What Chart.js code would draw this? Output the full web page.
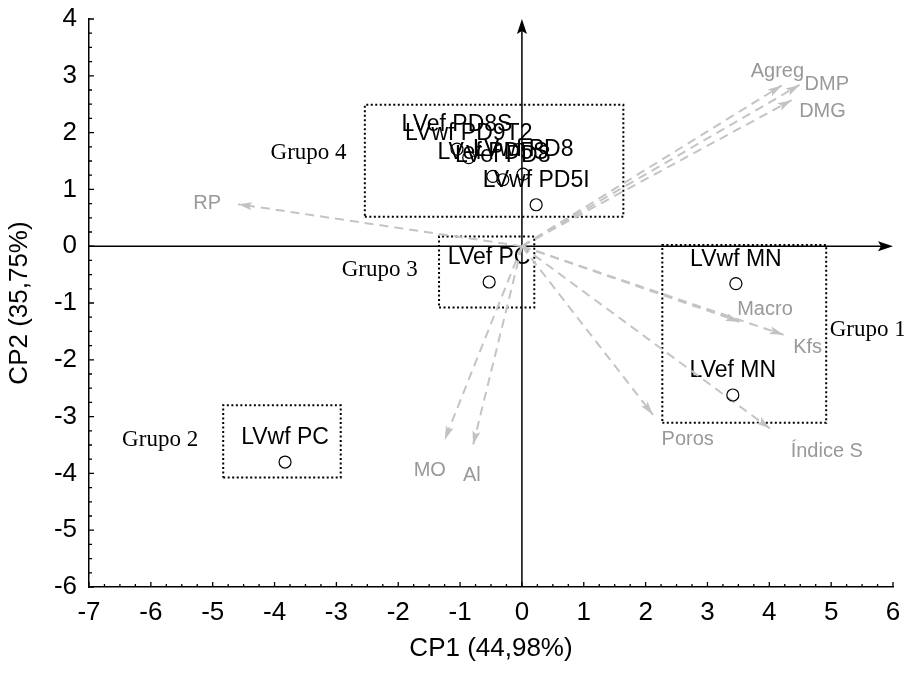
<!DOCTYPE html>
<html>
<head>
<meta charset="utf-8">
<script src="https://cdn.jsdelivr.net/npm/chart.js@4.4.0/dist/chart.umd.min.js"></script>
<style>
html, body { margin: 0; padding: 0; background: #fff; }
</style>
</head>
<body>
<canvas id="chart_pca" width="904" height="673"></canvas>
<script>
// scores (samples)
const sampleNames = ['LVwf MN', 'LVef MN', 'LVef PC', 'LVwf PC', 'LVef PD8S', 'LVwf PD9T2', 'LVef PD5S', 'LVef PD8', 'LVwf PD8', 'LVwf PD5I'];
const sampleX = [3.46, 3.41, -0.53, -3.83, -1.05, -0.86, -0.47, -0.31, 0.02, 0.23];
const sampleY = [-0.66, -2.62, -0.63, -3.80, 1.71, 1.56, 1.23, 1.17, 1.27, 0.73];

// loadings (variables)
const varNames = ['Agreg', 'DMP', 'DMG', 'RP', 'Macro', 'Kfs', 'Poros', 'Índice S', 'MO', 'Al'];
const varX = [4.20, 4.49, 4.36, -4.59, 3.52, 4.23, 2.12, 4.01, -1.25, -0.79];
const varY = [2.83, 2.84, 2.57, 0.74, -1.33, -1.56, -2.97, -3.21, -3.41, -3.50];

// groups (dotted boxes)
const groupNames = ['Grupo 1', 'Grupo 2', 'Grupo 3', 'Grupo 4'];
const groupXMin = [2.27, -4.83, -1.34, -2.54];
const groupXMax = [4.92, -2.93, 0.20, 1.64];
const groupYMin = [-3.11, -4.07, -1.08, 0.52];
const groupYMax = [0.02, -2.80, 0.17, 2.49];

// axis ranges
const xRange = [-7, 6];
const yRange = [-6, 4];

// where the variable and group names sit (data units)
const varLabelX = [4.13, 4.93, 4.86, -5.09, 3.93, 4.62, 2.68, 4.93, -1.49, -0.81];
const varLabelY = [3.07, 2.84, 2.37, 0.76, -1.12, -1.79, -3.41, -3.62, -3.94, -4.03];
const groupLabelX = [5.59, -5.85, -2.30, -3.45];
const groupLabelY = [-1.47, -3.41, -0.42, 1.64];

Chart.defaults.font.family = "'Liberation Sans', Arial, sans-serif";
Chart.defaults.color = '#000';

function arrowHead(ctx, tx, ty, angle, len, half) {
    ctx.save();
    ctx.translate(tx, ty);
    ctx.rotate(angle);
    ctx.beginPath();
    ctx.moveTo(0, 0);
    ctx.lineTo(-len, -half);
    ctx.lineTo(-len * 0.8, 0);
    ctx.lineTo(-len, half);
    ctx.closePath();
    ctx.fill();
    ctx.restore();
}

const biplotDecor = {
    id: 'biplotDecor',
    beforeDatasetsDraw(chart) {
        const { ctx, chartArea, scales: { x, y } } = chart;
        const x0 = x.getPixelForValue(0), y0 = y.getPixelForValue(0);
        ctx.save();
        ctx.strokeStyle = '#000';
        ctx.fillStyle = '#000';
        ctx.lineWidth = 1.5;
        ctx.beginPath();
        ctx.moveTo(chartArea.left, y0);
        ctx.lineTo(chartArea.right - 6, y0);
        ctx.moveTo(x0, chartArea.bottom);
        ctx.lineTo(x0, chartArea.top + 6);
        ctx.stroke();
        arrowHead(ctx, chartArea.right, y0, 0, 15, 5);
        arrowHead(ctx, x0, chartArea.top, -Math.PI / 2, 15, 5);

        // inward ticks, 4 per unit
        ctx.lineWidth = 1.3;
        ctx.beginPath();
        for (let v = x.min; v <= x.max + 1e-9; v += 0.25) {
            const px = x.getPixelForValue(v);
            const len = Math.abs(v - Math.round(v)) < 1e-6 ? 5 : 3;
            ctx.moveTo(px, chartArea.bottom);
            ctx.lineTo(px, chartArea.bottom - len);
        }
        for (let v = y.min; v <= y.max + 1e-9; v += 0.25) {
            const py = y.getPixelForValue(v);
            const len = Math.abs(v - Math.round(v)) < 1e-6 ? 5 : 3;
            ctx.moveTo(chartArea.left, py);
            ctx.lineTo(chartArea.left + len, py);
        }
        ctx.stroke();

        // sample names go under the circles
        ctx.textAlign = 'center';
        ctx.textBaseline = 'middle';
        ctx.font = "23px 'Liberation Sans', Arial, sans-serif";
        sampleNames.forEach((name, i) => {
            ctx.fillText(name, x.getPixelForValue(sampleX[i]), y.getPixelForValue(sampleY[i]) - 24);
        });
        ctx.restore();
    },
    afterDatasetsDraw(chart) {
        const { ctx, scales: { x, y } } = chart;
        const x0 = x.getPixelForValue(0), y0 = y.getPixelForValue(0);
        ctx.save();

        // arrow heads of the loadings
        ctx.fillStyle = '#c2c2c2';
        varX.forEach((vx, i) => {
            const px = x.getPixelForValue(vx), py = y.getPixelForValue(varY[i]);
            arrowHead(ctx, px, py, Math.atan2(py - y0, px - x0), 14, 4);
        });

        ctx.textAlign = 'center';
        ctx.textBaseline = 'middle';

        ctx.fillStyle = '#999';
        ctx.font = "20px 'Liberation Sans', Arial, sans-serif";
        varNames.forEach((name, i) => {
            ctx.fillText(name, x.getPixelForValue(varLabelX[i]), y.getPixelForValue(varLabelY[i]));
        });

        ctx.fillStyle = '#000';
        ctx.font = "23px 'Liberation Serif', 'Times New Roman', serif";
        groupNames.forEach((name, i) => {
            ctx.fillText(name, x.getPixelForValue(groupLabelX[i]), y.getPixelForValue(groupLabelY[i]));
        });
        ctx.restore();
    }
};

const datasets = [{
    label: 'amostras',
    data: sampleX.map((v, i) => ({ x: v, y: sampleY[i] })),
    pointRadius: 6,
    pointBackgroundColor: 'rgba(255,255,255,0)',
    pointBorderColor: '#000',
    pointBorderWidth: 1.2
}];

varNames.forEach((name, i) => {
    datasets.push({
        label: name,
        data: [{ x: 0, y: 0 }, { x: varX[i], y: varY[i] }],
        showLine: true,
        borderColor: '#c4c4c4',
        borderWidth: 2,
        borderDash: [9, 6],
        pointRadius: 0
    });
});

groupNames.forEach((name, i) => {
    datasets.push({
        label: name,
        data: [
            { x: groupXMin[i], y: groupYMin[i] },
            { x: groupXMax[i], y: groupYMin[i] },
            { x: groupXMax[i], y: groupYMax[i] },
            { x: groupXMin[i], y: groupYMax[i] },
            { x: groupXMin[i], y: groupYMin[i] }
        ],
        showLine: true,
        borderColor: '#000',
        borderWidth: 2,
        borderDash: [2, 2.5],
        pointRadius: 0
    });
});

new Chart(document.getElementById('chart_pca'), {
    type: 'scatter',
    data: { datasets: datasets },
    options: {
        responsive: false,
        animation: false,
        devicePixelRatio: 1,
        layout: { padding: { top: 19, right: 11, left: 0, bottom: 0 } },
        plugins: {
            legend: { display: false },
            tooltip: { enabled: false }
        },
        scales: {
            x: {
                type: 'linear',
                min: xRange[0],
                max: xRange[1],
                ticks: { stepSize: 1, autoSkip: false, maxRotation: 0, padding: 10, color: '#000', font: { size: 26 } },
                grid: { drawOnChartArea: false, drawTicks: false },
                border: { color: '#000', width: 1.5 },
                title: { display: true, text: 'CP1 (44,98%)', color: '#000', font: { size: 26 }, padding: { top: 0, bottom: 9 } },
                afterFit(scale) {
                    scale.height = 86;
                    scale.paddingLeft = 0;
                    scale.paddingRight = 0;
                }
            },
            y: {
                type: 'linear',
                min: yRange[0],
                max: yRange[1],
                ticks: { stepSize: 1, autoSkip: false, padding: 12, color: '#000', font: { size: 26 } },
                grid: { drawOnChartArea: false, drawTicks: false },
                border: { color: '#000', width: 1.5 },
                title: { display: true, text: 'CP2 (35,75%)', color: '#000', font: { size: 26 }, padding: { top: 4, bottom: 0 } },
                afterFit(scale) {
                    scale.width = 89;
                    scale.paddingTop = 0;
                    scale.paddingBottom = 0;
                }
            }
        }
    },
    plugins: [biplotDecor]
});
</script>
</body>
</html>
